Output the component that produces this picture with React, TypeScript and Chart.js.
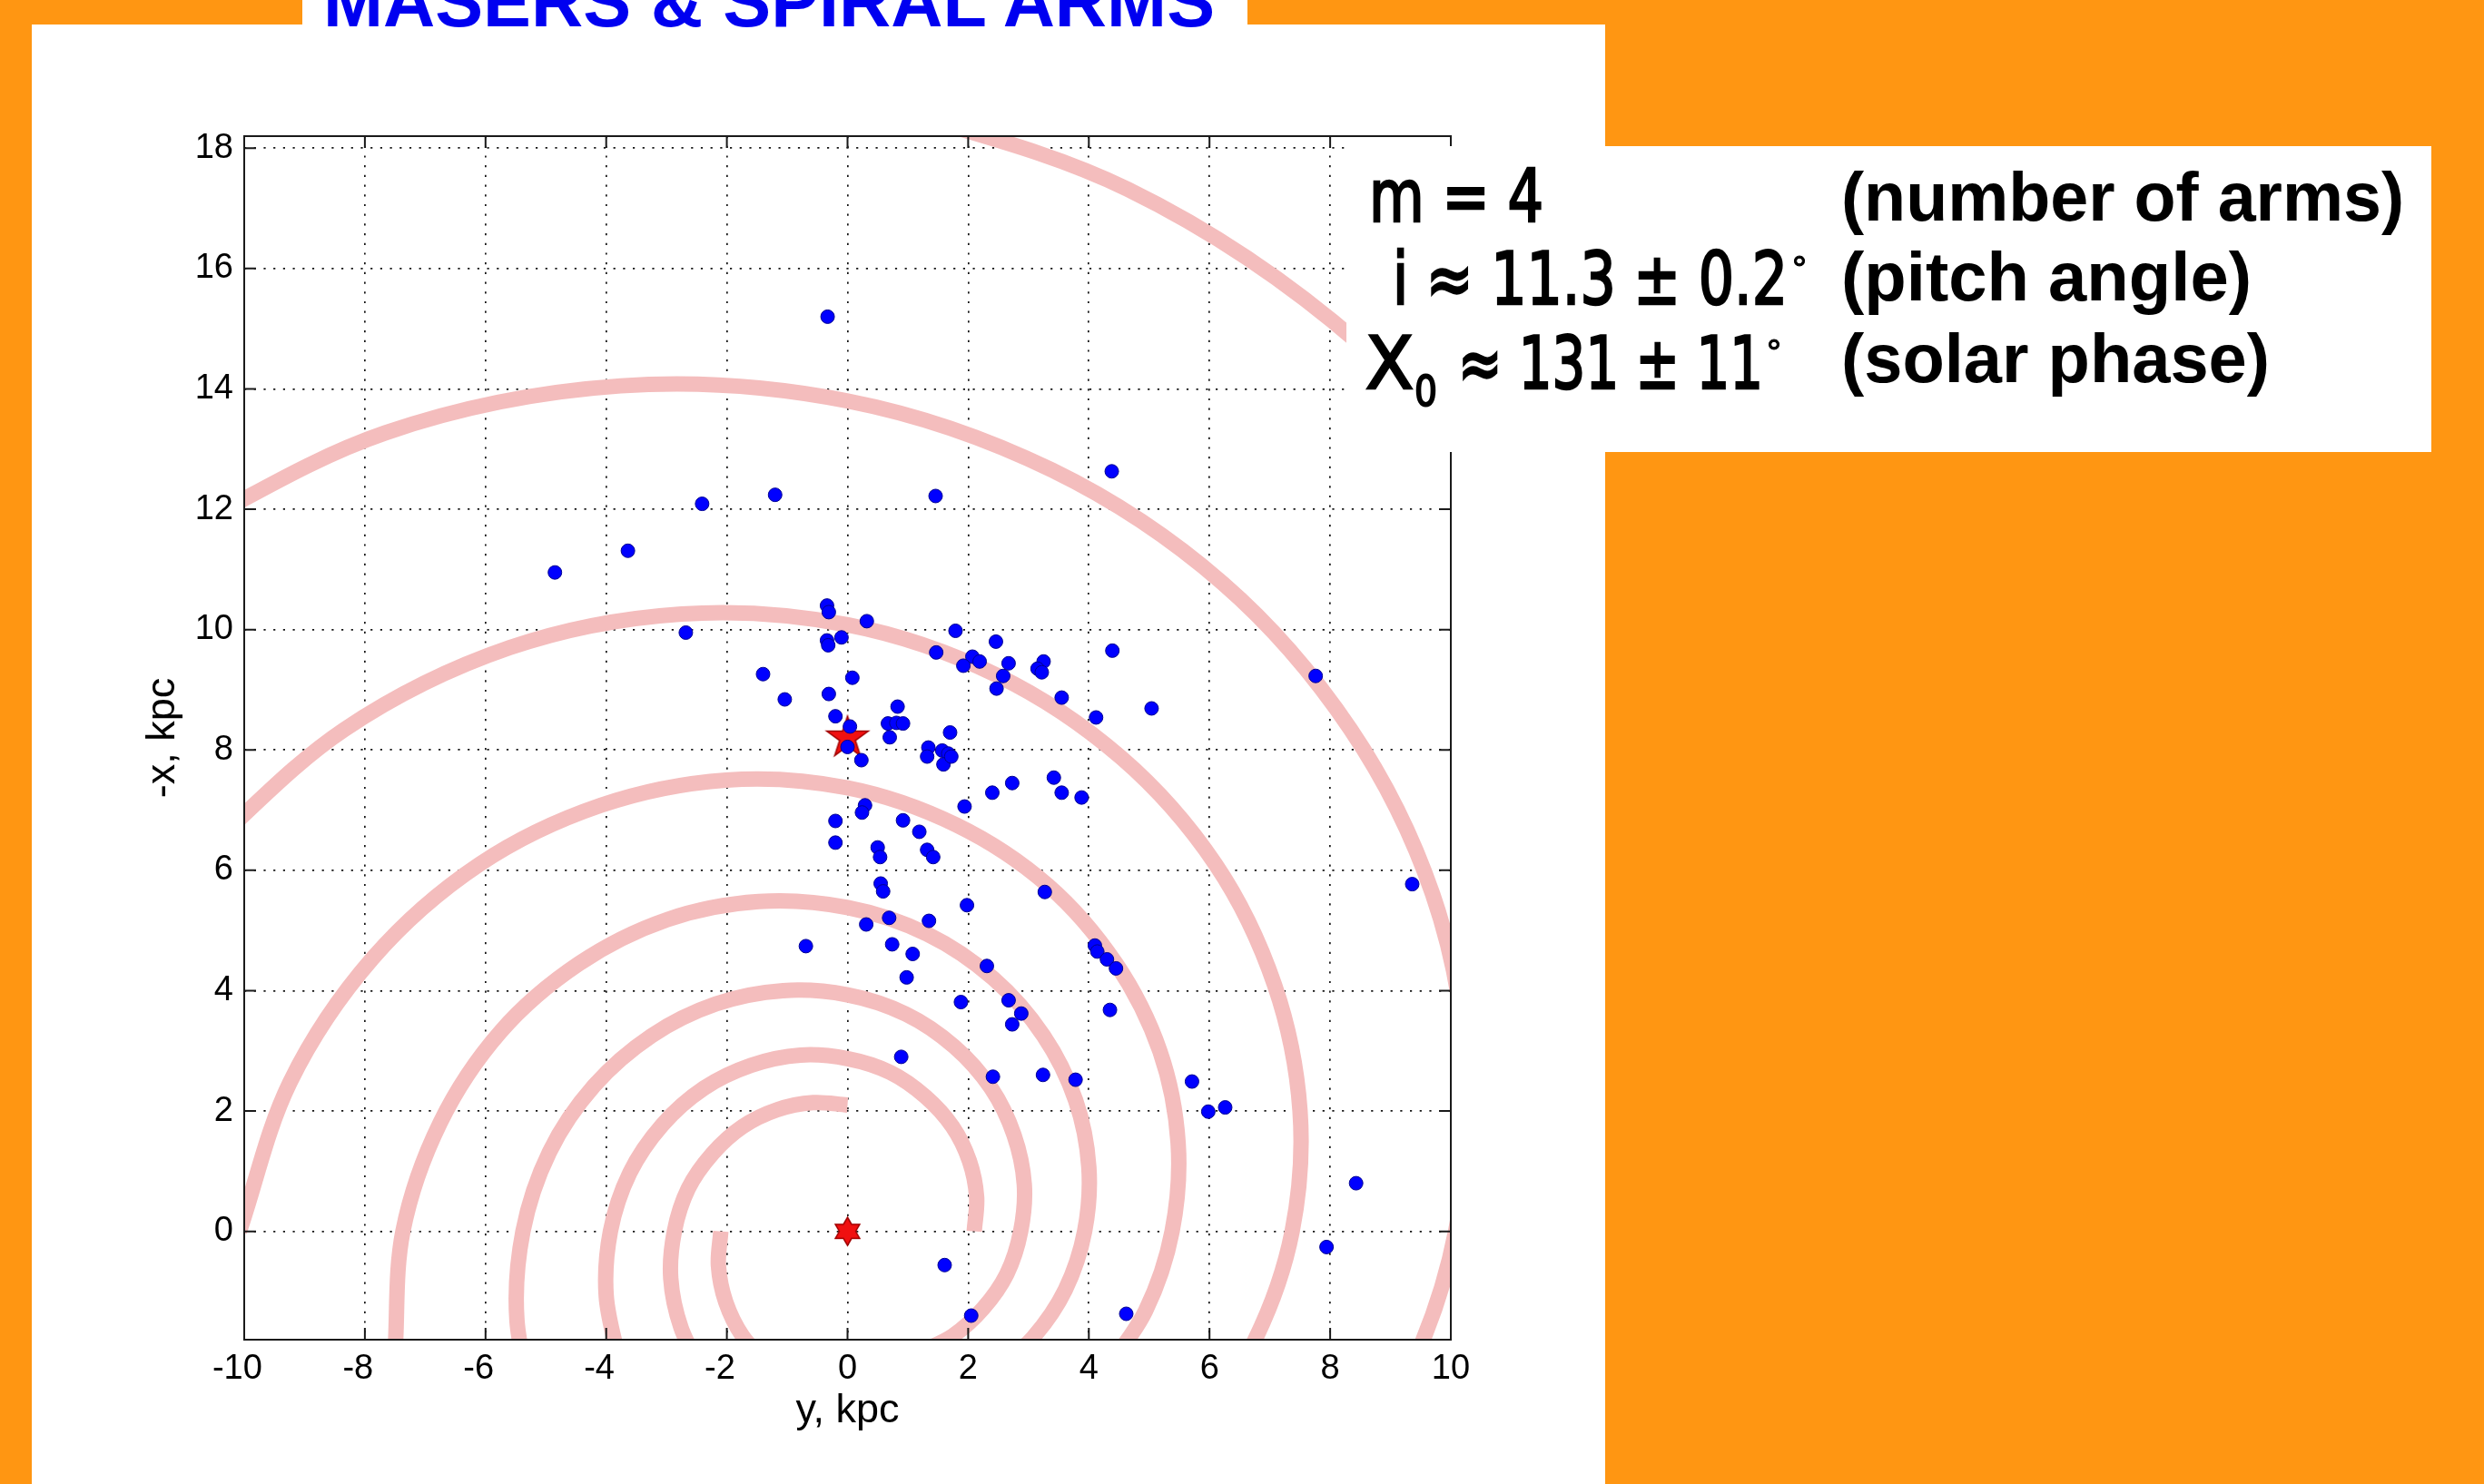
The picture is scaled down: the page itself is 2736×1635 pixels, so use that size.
import React, { useEffect, useRef } from 'react';
import { Chart, registerables } from 'chart.js';

Chart.register(...registerables);

// ---------- axes ----------
const X_TICKS = [-10, -8, -6, -4, -2, 0, 2, 4, 6, 8, 10];
const Y_TICKS = [0, 2, 4, 6, 8, 10, 12, 14, 16, 18];
const X_MIN = -10;
const X_MAX = 10;
const Y_MIN = -1.8;
const Y_MAX = 18.2;

// ---------- masers: horizontal "y, kpc" and vertical "-x, kpc" ----------
const MASER_Y = [
  -0.33, -1.2, -2.41, -3.64, -4.85, -2.68, -1.4, -1.04, -0.34, -0.31,
  0.32, -0.34, -0.32, -0.1, 1.79, 2.46, 1.47, 2.07, 2.19, 1.92,
  2.67, 2.58, 2.47, 3.25, 3.15, 3.22, 4.39, 0.08, -0.31, 3.55,
  4.12, 0.83, -0.2, 0.67, 0.81, 0.92, 0.7, 1.7, 0.04, 0.0,
  0.23, 1.34, 1.32, 1.57, 1.67, 1.59, 1.72, 3.42, 2.73, 3.55,
  2.4, 3.88, 1.94, 0.29, 0.24, 4.38, 1.46, 7.76, 5.04, 0.92,
  1.19, 0.5, 0.54, 1.32, 1.42, 0.55, 0.59, 3.27, 1.98, 0.31,
  0.69, 1.35, 0.74, 1.08, 0.98, 2.31, 4.1, 4.14, 4.3, 4.45,
  4.35, 1.88, 2.67, 2.88, 2.73, 0.89, 2.41, 3.24, 3.78, 5.71,
  5.98, 6.26, 9.36, 8.43, 7.94, 1.61, 2.05, 4.62, -0.2, -0.2,
  -0.69,
];
const MASER_NEG_X = [
  15.2, 12.24, 12.09, 11.31, 10.95, 9.95, 9.26, 8.84, 10.4, 10.29,
  10.14, 9.82, 9.74, 9.87, 9.98, 9.8, 9.62, 9.55, 9.47, 9.4,
  9.44, 9.23, 9.02, 9.47, 9.35, 9.29, 9.65, 9.2, 8.93, 8.87,
  8.54, 8.72, 8.56, 8.44, 8.45, 8.44, 8.21, 8.29, 8.39, 8.05,
  7.83, 8.04, 7.89, 7.99, 7.94, 7.76, 7.89, 7.54, 7.45, 7.29,
  7.29, 7.21, 7.06, 7.08, 6.96, 12.63, 12.22, 9.23, 8.69, 6.83,
  6.64, 6.38, 6.22, 6.34, 6.22, 5.78, 5.65, 5.64, 5.42, 5.1,
  5.21, 5.16, 4.77, 4.61, 4.22, 4.41, 4.75, 4.65, 4.52, 4.37,
  3.68, 3.81, 3.84, 3.62, 3.44, 2.9, 2.57, 2.6, 2.52, 2.49,
  1.99, 2.06, 5.77, 0.8, -0.26, -0.56, -1.4, -1.37, 6.82, 6.46,
  4.74,
];

const SUN = [0, 8.2];
const GALACTIC_CENTER = [0, 0];

// ---------- spiral arm traces [y, -x] ----------
const ARM_A1 = [
  [2.1, 0.0], [2.14, 0.57], [2.02, 1.17], [1.74, 1.74], [1.29, 2.24], [0.71, 2.64],
  [0.0, 2.87], [-0.78, 2.93], [-1.6, 2.76], [-2.38, 2.38], [-3.07, 1.77], [-3.61, 0.97],
  [-3.93, 0.0], [-4.0, -1.07], [-3.78, -2.18],
];
const ARM_A2 = [
  [5.75, -3.32], [6.75, -1.81], [7.37, 0.0], [7.5, 2.01], [7.08, 4.09], [6.1, 6.1],
  [4.54, 7.87], [2.48, 9.24], [0.0, 10.08], [-2.75, 10.26], [-5.6, 9.7], [-8.34, 8.34],
  [-10.77, 6.22],
];
const ARM_B1 = [
  [0.0, 2.1], [-0.57, 2.14], [-1.17, 2.02], [-1.74, 1.74], [-2.24, 1.29], [-2.64, 0.71],
  [-2.87, 0.0], [-2.93, -0.78], [-2.76, -1.6], [-2.38, -2.38],
];
const ARM_B2 = [
  [4.2, -2.42], [4.94, -1.32], [5.38, 0.0], [5.48, 1.47], [5.18, 2.99], [4.45, 4.45],
  [3.32, 5.75], [1.81, 6.75], [0.0, 7.37], [-2.01, 7.5], [-4.09, 7.08], [-6.1, 6.1],
  [-7.87, 4.54], [-9.24, 2.48], [-10.08, 0.0],
];
const ARM_C1 = [
  [-2.1, 0.0], [-2.14, -0.57], [-2.02, -1.17], [-1.74, -1.74], [-1.29, -2.24],
];
const ARM_C2 = [
  [2.38, -2.38], [3.07, -1.77], [3.61, -0.97], [3.93, 0.0], [4.0, 1.07], [3.78, 2.18],
  [3.25, 3.25], [2.42, 4.2], [1.32, 4.94], [0.0, 5.38], [-1.47, 5.48], [-2.99, 5.18],
  [-4.45, 4.45], [-5.75, 3.32], [-6.75, 1.81], [-7.37, 0.0], [-7.5, -2.01],
];
const ARM_C3 = [
  [11.42, 11.42], [8.51, 14.73], [4.64, 17.32], [0.0, 18.89],
];
const ARM_D1 = [
  [1.17, -2.02], [1.74, -1.74], [2.24, -1.29], [2.64, -0.71], [2.87, 0.0], [2.93, 0.78],
  [2.76, 1.6], [2.38, 2.38], [1.77, 3.07], [0.97, 3.61], [0.0, 3.93], [-1.07, 4.0],
  [-2.18, 3.78], [-3.25, 3.25], [-4.2, 2.42], [-4.94, 1.32], [-5.38, 0.0], [-5.48, -1.47],
  [-5.18, -2.99],
];
const ARM_D2 = [
  [7.87, -4.54], [9.24, -2.48], [10.08, 0.0], [10.26, 2.75], [9.7, 5.6], [8.34, 8.34],
  [6.22, 10.77], [3.39, 12.65], [0.0, 13.8], [-3.76, 14.05], [-7.66, 13.27], [-11.42, 11.42],
];
const ARMS = [ARM_A1, ARM_A2, ARM_B1, ARM_B2, ARM_C1, ARM_C2, ARM_C3, ARM_D1, ARM_D2];

// ---------- styles ----------
const ORANGE = '#FF9612';
const PINK = 'rgb(244,189,189)';
const BLUE = '#0000FF';
const SANS = "'Liberation Sans', Arial, Helvetica, sans-serif";
const DEJAVU = "'DejaVu Sans', 'Liberation Sans', sans-serif";
const TICK_LEN = 13;

function makeStar(points: number, outerR: number, innerRatio: number): HTMLCanvasElement {
  const size = Math.ceil(outerR * 2 + 4);
  const c = document.createElement('canvas');
  c.width = size;
  c.height = size;
  const ctx = c.getContext('2d')!;
  const cx = size / 2;
  const cy = size / 2;
  ctx.beginPath();
  for (let i = 0; i < points * 2; i++) {
    const r = i % 2 === 0 ? outerR : outerR * innerRatio;
    const a = -Math.PI / 2 + (i * Math.PI) / points;
    const px = cx + r * Math.cos(a);
    const py = cy + r * Math.sin(a);
    if (i === 0) ctx.moveTo(px, py);
    else ctx.lineTo(px, py);
  }
  ctx.closePath();
  ctx.fillStyle = '#F01010';
  ctx.fill();
  ctx.strokeStyle = '#A00000';
  ctx.lineWidth = 1.5;
  ctx.stroke();
  return c;
}

const framePlugin = {
  id: 'matlabFrame',
  afterDatasetsDraw(chart: any) {
    const { ctx, chartArea: a, scales } = chart;
    const xs = scales.x;
    const ys = scales.y;
    ctx.save();
    ctx.strokeStyle = '#1a1a1a';
    ctx.lineWidth = 2;
    ctx.beginPath();
    for (const t of xs.ticks) {
      const px = xs.getPixelForValue(t.value);
      ctx.moveTo(px, a.bottom);
      ctx.lineTo(px, a.bottom - TICK_LEN);
      ctx.moveTo(px, a.top);
      ctx.lineTo(px, a.top + TICK_LEN);
    }
    for (const t of ys.ticks) {
      const py = ys.getPixelForValue(t.value);
      ctx.moveTo(a.left, py);
      ctx.lineTo(a.left + TICK_LEN, py);
      ctx.moveTo(a.right, py);
      ctx.lineTo(a.right - TICK_LEN, py);
    }
    ctx.stroke();
    ctx.strokeRect(a.left, a.top, a.right - a.left, a.bottom - a.top);
    ctx.restore();
  },
};

function GalaxyChart() {
  const ref = useRef<HTMLCanvasElement | null>(null);
  useEffect(() => {
    if (!ref.current) return;
    const sunStar = makeStar(5, 24, 0.382);
    const centerStar = makeStar(6, 15.5, 0.58);

    const armSets = ARMS.map((arm) => ({
      data: arm.map(([x, y]) => ({ x, y })),
      showLine: true,
      borderColor: PINK,
      borderWidth: 17,
      pointRadius: 0,
      tension: 0.34,
      fill: false,
      clip: 0,
    }));

    const chart = new Chart(ref.current, {
      type: 'scatter',
      data: {
        datasets: [
          {
            data: MASER_Y.map((v, i) => ({ x: v, y: MASER_NEG_X[i] })),
            pointRadius: 7.5,
            pointBackgroundColor: BLUE,
            pointBorderColor: '#000090',
            pointBorderWidth: 1,
            showLine: false,
          } as any,
          {
            data: [{ x: SUN[0], y: SUN[1] }],
            pointStyle: sunStar,
            pointRadius: 20,
            showLine: false,
          } as any,
          {
            data: [{ x: GALACTIC_CENTER[0], y: GALACTIC_CENTER[1] }],
            pointStyle: centerStar,
            pointRadius: 14,
            showLine: false,
          } as any,
          ...(armSets as any[]),
        ],
      },
      options: {
        responsive: false,
        devicePixelRatio: 1,
        animation: false,
        events: [],
        layout: { padding: { left: 0, top: 150, right: 172, bottom: 0 } },
        elements: { line: { capBezierPoints: false } as any },
        plugins: { legend: { display: false }, tooltip: { enabled: false } },
        scales: {
          x: {
            type: 'linear',
            min: X_MIN,
            max: X_MAX,
            afterBuildTicks: (s: any) => {
              s.ticks = X_TICKS.map((value) => ({ value }));
            },
            afterFit: (s: any) => {
              s.height = 159;
            },
            grid: { color: '#151515', lineWidth: 1.7, drawTicks: false },
            border: { display: false, dash: [2.2, 8.5] },
            ticks: {
              autoSkip: false,
              maxRotation: 0,
              padding: 10,
              color: '#000',
              font: { family: SANS, size: 38 },
              callback: (v: any) => (Number(v) < 0 ? `${v}\u2009\u2009` : `${v}`),
            },
            title: {
              display: true,
              text: 'y, kpc',
              color: '#000',
              font: { family: SANS, size: 45 },
              padding: { top: 0, bottom: 53 },
            },
          },
          y: {
            type: 'linear',
            min: Y_MIN,
            max: Y_MAX,
            afterBuildTicks: (s: any) => {
              s.ticks = Y_TICKS.map((value) => ({ value }));
            },
            afterFit: (s: any) => {
              s.width = 269;
            },
            grid: { color: '#151515', lineWidth: 1.7, drawTicks: false },
            border: { display: false, dash: [2.2, 8.5] },
            ticks: {
              autoSkip: false,
              padding: 12,
              color: '#000',
              font: { family: SANS, size: 38 },
            },
            title: {
              display: true,
              text: '-x, kpc',
              color: '#000',
              font: { family: SANS, size: 45 },
              padding: { top: 153, bottom: 0 },
            },
          },
        },
      },
      plugins: [framePlugin],
    });
    return () => chart.destroy();
  }, []);
  return (
    <canvas
      ref={ref}
      width={1770}
      height={1635}
      style={{ position: 'absolute', left: 0, top: 0, width: 1770, height: 1635, display: 'block' }}
    />
  );
}

export default function App() {
  return (
    <div
      style={{
        position: 'fixed',
        left: 0,
        top: 0,
        width: 2736,
        height: 1635,
        background: ORANGE,
        overflow: 'hidden',
      }}
    >
      <div style={{ position: 'absolute', left: 35, top: 27, width: 1733, height: 1608, background: '#fff' }} />
      <div style={{ position: 'absolute', left: 333, top: 0, width: 1041, height: 30, background: '#fff' }} />
      <GalaxyChart />
      <div style={{ position: 'absolute', left: 1483, top: 161, width: 1195, height: 337, background: '#fff' }} />
      <svg
        width={2736}
        height={1635}
        style={{ position: 'absolute', left: 0, top: 0, pointerEvents: 'none' }}
      >
        <text
          x={356}
          y={29}
          fontFamily={SANS}
          fontWeight="bold"
          fontSize={79}
          fill="#0000F0"
          textLength={982}
          lengthAdjust="spacingAndGlyphs"
        >
          {'MASERS & SPIRAL ARMS'}
        </text>

        <g fontFamily={DEJAVU} fontWeight="normal" fill="#000" stroke="#000" strokeWidth={2.6}>
          <text x={1508} y={244} fontSize={80} textLength={192} lengthAdjust="spacingAndGlyphs">
            {'m = 4'}
          </text>
          <text x={1534} y={335} fontSize={80} textLength={435} lengthAdjust="spacingAndGlyphs">
            {'i \u2248 11.3 \u00B1 0.2'}
          </text>
          <text x={1973} y={308} fontSize={36} strokeWidth={1}>
            {'\u00B0'}
          </text>
          <text x={1504} y={428} fontSize={80} textLength={53} lengthAdjust="spacingAndGlyphs">
            {'X'}
          </text>
          <text x={1558} y={447} fontSize={46} textLength={25} lengthAdjust="spacingAndGlyphs" strokeWidth={2}>
            {'0'}
          </text>
          <text x={1606} y={428} fontSize={80} textLength={336} lengthAdjust="spacingAndGlyphs">
            {'\u2248 131 \u00B1 11'}
          </text>
          <text x={1945} y={400} fontSize={36} strokeWidth={1}>
            {'\u00B0'}
          </text>
        </g>

        <g fontFamily={SANS} fontWeight="bold" fontSize={76} fill="#000">
          <text x={2028} y={243} textLength={620} lengthAdjust="spacingAndGlyphs">
            {'(number of arms)'}
          </text>
          <text x={2028} y={331} textLength={452} lengthAdjust="spacingAndGlyphs">
            {'(pitch angle)'}
          </text>
          <text x={2028} y={421} textLength={472} lengthAdjust="spacingAndGlyphs">
            {'(solar phase)'}
          </text>
        </g>
      </svg>
    </div>
  );
}
